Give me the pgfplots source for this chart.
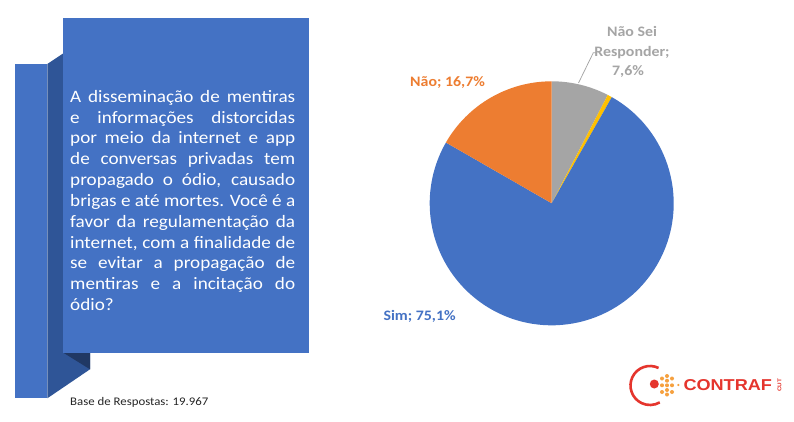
\documentclass[border=0pt]{standalone}
\usepackage{pgfplots}
\pgfplotsset{compat=1.18}
\usepackage{pgfplotstable}
\usepackage{fontspec}
\setmainfont{Carlito}[FakeStretch=1.1]
\newfontfamily\logofont{Liberation Sans}[FakeStretch=1.15]

\definecolor{simblue}{HTML}{4472C4}
\definecolor{naoorange}{HTML}{ED7D31}
\definecolor{nsgrey}{HTML}{A5A5A5}
\definecolor{outyellow}{HTML}{FFC000}
\definecolor{boxblue}{HTML}{4472C4}
\definecolor{boxside}{HTML}{2F5597}
\definecolor{boxshadow}{HTML}{203864}
\definecolor{darktext}{HTML}{262626}
\definecolor{logored}{HTML}{E5352D}
\definecolor{logoorange}{HTML}{F6A13F}

% respostas (%)
\pgfplotstableread{
resposta valor
Sim      75.1
Nao      16.7
NaoSei   7.6
Outros   0.6
}\pietable

\pgfplotstablegetelem{0}{valor}\of\pietable \let\vSim\pgfplotsretval
\pgfplotstablegetelem{1}{valor}\of\pietable \let\vNao\pgfplotsretval
\pgfplotstablegetelem{2}{valor}\of\pietable \let\vNS\pgfplotsretval
\pgfplotstablegetelem{3}{valor}\of\pietable \let\vOut\pgfplotsretval

% clockwise from 12 o'clock: Nao Sei, Outros, Sim, Nao
\pgfmathsetmacro\aNS{90}
\pgfmathsetmacro\aOut{\aNS-3.6*\vNS}
\pgfmathsetmacro\aSim{\aOut-3.6*\vOut}
\pgfmathsetmacro\aNao{\aSim-3.6*\vSim}
\pgfmathsetmacro\aEnd{\aNao-3.6*\vNao}

\begin{document}
\begin{tikzpicture}[x=1bp,y=1bp]
\path[fill=white,use as bounding box] (0,0) rectangle (794,421);

% question box
\fill[boxblue] (15,22.7) rectangle (47.3,357);
\fill[boxside] (47.3,357) -- (63.3,367.7) -- (63.3,68.3) -- (90,68.3) -- (90,51.7) -- (47.3,22.7) -- cycle;
\fill[boxshadow] (63.3,68.3) -- (90,68.3) -- (90,51.7) -- cycle;
\fill[boxblue] (63.3,68.3) rectangle (309.3,402.7);

\node[anchor=north west, inner sep=0pt, text width=225bp, align=justify, text=white,
      font=\fontsize{17.5}{20.9}\selectfont] at (70,331) {\hyphenpenalty=10000
A disseminação de mentiras\linebreak
e informações distorcidas\linebreak
por meio da internet e app\linebreak
de conversas privadas tem\linebreak
propagado o ódio, causado\linebreak
brigas e até mortes. Você é a\linebreak
favor da regulamentação da\linebreak
internet, com a finalidade de\linebreak
se evitar a propagação de\linebreak
mentiras e a incitação do\linebreak
ódio?};

\node[anchor=base west, inner sep=0pt, text=darktext, font=\fontsize{11.7}{14}\selectfont]
  at (70,16) {Base de Respostas: 19.967};

% pie
\begin{axis}[at={(551.7bp,217.7bp)}, anchor=origin, x=122bp, y=122bp,
  xmin=-1, xmax=1, ymin=-1, ymax=1, hide axis, clip=false, disabledatascaling]
\addplot[draw=none, forget plot] coordinates {(-1,-1) (1,1)};
\fill[nsgrey] (axis cs:0,0) -- (axis cs:{cos(\aNS)},{sin(\aNS)})
  arc[start angle=\aNS, end angle=\aOut, radius=122bp] -- cycle;
\fill[outyellow] (axis cs:0,0) -- (axis cs:{cos(\aOut)},{sin(\aOut)})
  arc[start angle=\aOut, end angle=\aSim, radius=122bp] -- cycle;
\fill[simblue] (axis cs:0,0) -- (axis cs:{cos(\aSim)},{sin(\aSim)})
  arc[start angle=\aSim, end angle=\aNao, radius=122bp] -- cycle;
\fill[naoorange] (axis cs:0,0) -- (axis cs:{cos(\aNao)},{sin(\aNao)})
  arc[start angle=\aNao, end angle=\aEnd, radius=122bp] -- cycle;
\end{axis}

% slice labels
\begin{scope}[every node/.style={inner sep=0pt, font=\bfseries\fontsize{14.5}{17}\selectfont}]
\node[anchor=base west, text=naoorange] at (410,334.3) {Não; 16,7\%};
\node[anchor=base, text=nsgrey] at (632,385) {Não Sei};
\node[anchor=base, text=nsgrey] at (632,365) {Responder;};
\node[anchor=base, text=nsgrey] at (628,346) {7,6\%};
\node[anchor=base west, text=simblue] at (383.3,101) {Sim; 75,1\%};
\end{scope}
\draw[nsgrey, line width=0.75bp] (596,368.3) -- (593.3,368.3) -- (578.5,338);

% logo
\draw[logored, line width=2.6bp] (650,35.5) ++(64:19.5) arc[start angle=64, end angle=300, radius=19.5];
\fill[logored] (654.3,37) circle (4.5);
\foreach \px/\py in {662/42.5, 667/45, 667/40.3, 672/42.5, 662/35.7, 667/35.7, 672/35.7,
                     662/29, 667/31, 667/26.5, 672/29}
  \fill[logoorange] (\px,\py) circle (2);
\fill[logoorange] (678.3,36) circle (1.2);
\node[anchor=base west, inner sep=0pt, text=logored, font=\logofont\bfseries\fontsize{15.8}{16}\selectfont]
  at (683.3,30.3) {CONTRAF};
\node[rotate=90, inner sep=0pt, text=logored, font=\logofont\bfseries\fontsize{5.5}{6}\selectfont]
  at (779.5,35.5) {CUT};
\end{tikzpicture}
\end{document}
